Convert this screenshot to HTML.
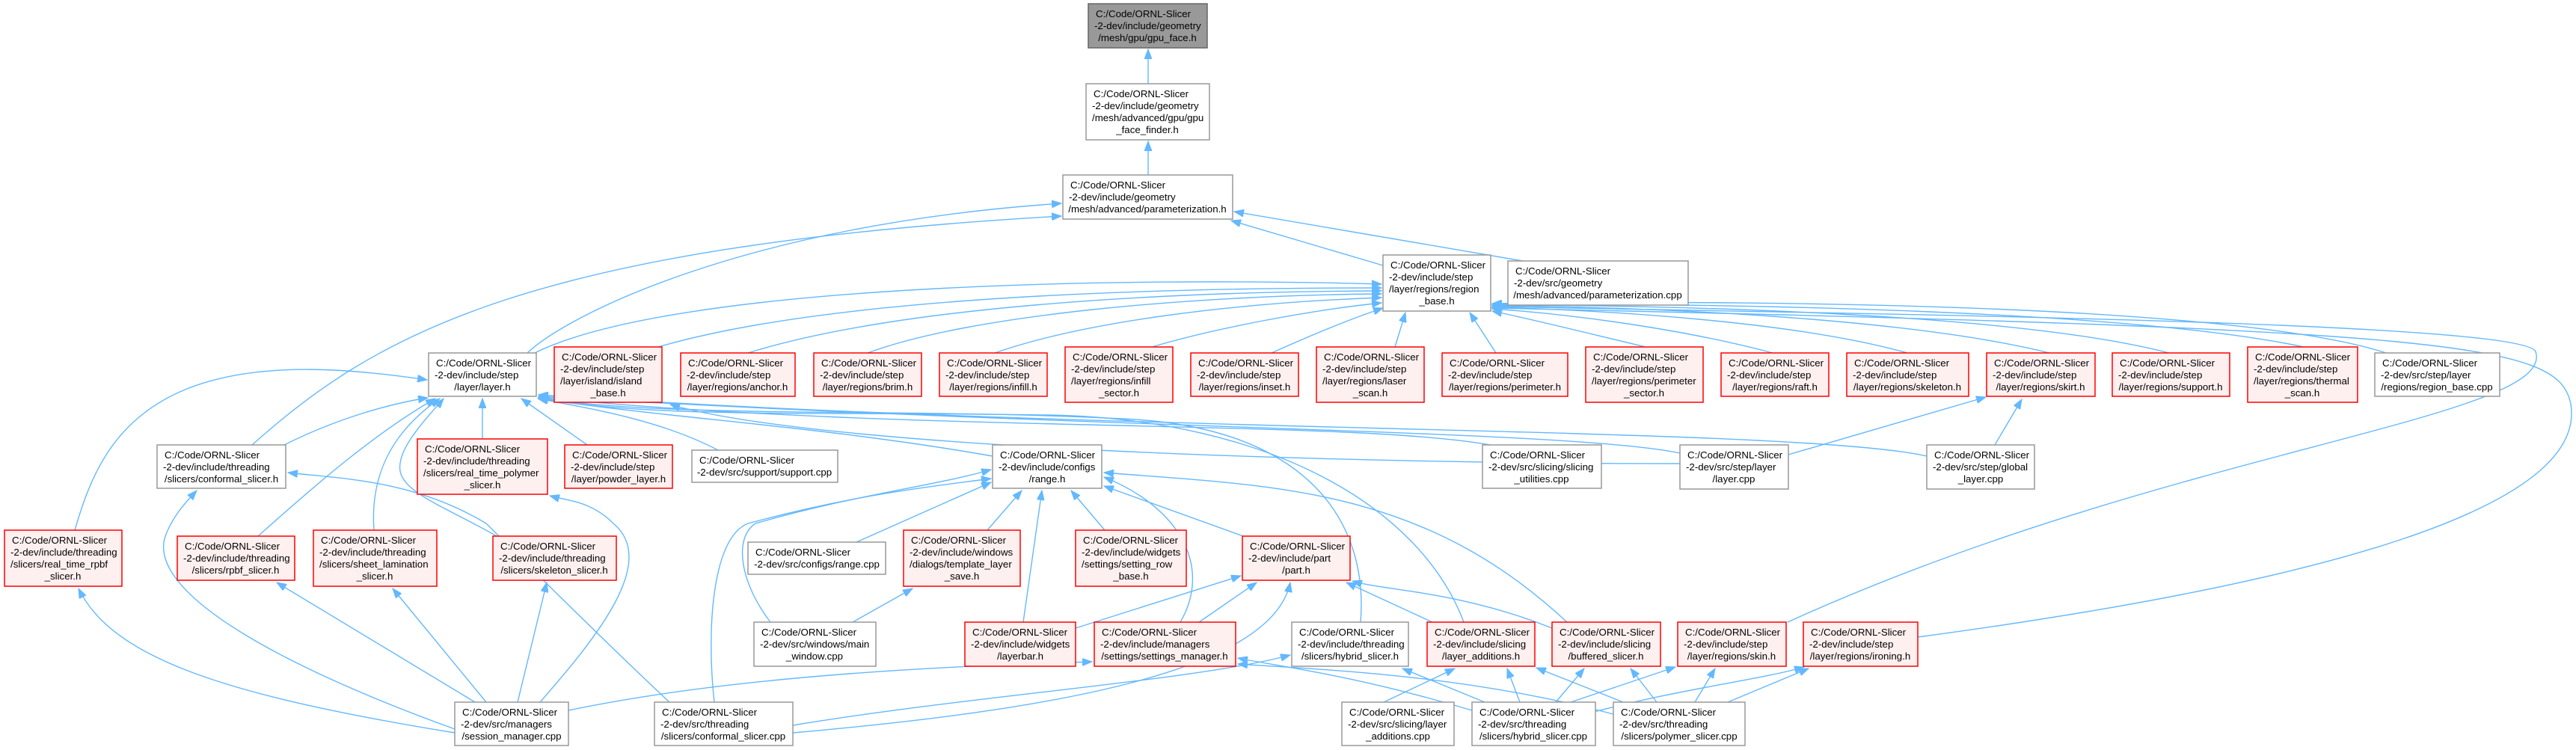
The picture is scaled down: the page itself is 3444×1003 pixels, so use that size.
<!DOCTYPE html>
<html><head><meta charset="utf-8"><style>
html,body{margin:0;padding:0;background:#fff;}
svg{display:block;}
text{font-family:"Liberation Sans",Arial,sans-serif;font-size:13.3px;fill:#000;}
.n{fill:#fff;stroke:#999;stroke-width:1.5}
.r{fill:#fff0f0;stroke:#ff0000;stroke-width:1.5}
.m{fill:#999;stroke:#666;stroke-width:1.5}
path.e{fill:none;stroke:#63b8ff;stroke-width:1.4;marker-end:url(#a)}
</style></head><body>
<svg width="3444" height="1003" viewBox="0 0 3444 1003" xmlns="http://www.w3.org/2000/svg">
<defs><marker id="a" markerUnits="userSpaceOnUse" markerWidth="14" markerHeight="10" refX="13" refY="5" orient="auto"><path d="M0,0 L13,5 L0,10 z" fill="#63b8ff" stroke="#63b8ff"/></marker></defs>
<g>
<path class="e" d="M1535,112 L1535,66"/>
<path class="e" d="M1535,234 L1535,189"/>
<path class="e" d="M1849,355 L1646,295"/>
<path class="e" d="M2036,349 L1650,283"/>
<path class="e" d="M705,472 C760,420 1000,300 1419,272"/>
<path class="e" d="M337,595 C500,450 700,330 1419,289"/>
<path class="e" d="M715,472 C900,380 1500,370 1847,380"/>
<path class="e" d="M880,464 C1100,400 1500,385 1847,385"/>
<path class="e" d="M1000,472 C1200,410 1550,390 1847,389"/>
<path class="e" d="M1160,472 C1300,420 1600,395 1847,393"/>
<path class="e" d="M1330,472 C1450,430 1650,405 1847,398"/>
<path class="e" d="M1540,464 C1620,440 1750,415 1847,405"/>
<path class="e" d="M1700,472 C1760,445 1810,425 1849,412"/>
<path class="e" d="M1865,464 L1879,418"/>
<path class="e" d="M2000,472 L1965,418"/>
<path class="e" d="M2200,464 C2100,440 2040,425 1995,416"/>
<path class="e" d="M2370,472 C2250,440 2100,420 1995,413"/>
<path class="e" d="M2550,472 C2400,430 2150,415 1995,411"/>
<path class="e" d="M2740,472 C2550,425 2200,410 1995,409"/>
<path class="e" d="M2900,472 C2700,420 2250,408 1995,408"/>
<path class="e" d="M3080,464 C2850,415 2300,405 1995,407"/>
<path class="e" d="M3190,472 C3000,410 2400,400 1995,406"/>
<path class="e" d="M2390,832 C2900,600 3420,560 3390,470 C3370,430 2500,420 1995,410"/>
<path class="e" d="M2564,852 C3100,780 3460,680 3437,540 C3420,460 3300,440 1995,412"/>
<path class="e" d="M380,595 C450,560 520,540 572,532"/>
<path class="e" d="M100,709 C120,640 150,560 250,520 C350,480 480,495 571,508"/>
<path class="e" d="M345,717 C420,650 500,580 582,533"/>
<path class="e" d="M500,709 C495,640 520,580 588,533"/>
<path class="e" d="M664,717 C600,680 540,660 535,630 C530,600 570,560 593,533"/>
<path class="e" d="M645,587 L645,533"/>
<path class="e" d="M785,595 L697,533"/>
<path class="e" d="M960,602 C880,560 780,545 719,533"/>
<path class="e" d="M1327,610 C1100,570 900,560 720,533"/>
<path class="e" d="M1992,595 C1800,560 1200,580 720,531"/>
<path class="e" d="M2246,606 C2100,575 1500,575 720,530"/>
<path class="e" d="M2576,610 C2400,570 1500,580 720,528"/>
<path class="e" d="M1819,832 C1830,700 1750,570 1500,560 C1200,545 900,560 720,532"/>
<path class="e" d="M1957,832 C1900,680 1700,560 1400,555 C1100,550 850,560 720,531"/>
<path class="e" d="M2246,620 C1800,620 1100,600 896,541"/>
<path class="e" d="M955,939 C945,850 950,720 1000,700 C1150,660 1250,650 1325,640"/>
<path class="e" d="M1030,832 C990,780 980,720 1010,700 C1150,660 1250,650 1325,628"/>
<path class="e" d="M1145,725 L1325,645"/>
<path class="e" d="M1320,709 L1366,656"/>
<path class="e" d="M1368,832 L1393,656"/>
<path class="e" d="M1477,709 L1432,656"/>
<path class="e" d="M1578,832 C1620,760 1580,680 1476,638"/>
<path class="e" d="M1662,717 L1476,650"/>
<path class="e" d="M2095,832 C1900,650 1700,650 1476,632"/>
<path class="e" d="M1140,832 L1220,787"/>
<path class="e" d="M1438,840 L1659,770"/>
<path class="e" d="M1603,832 L1680,779"/>
<path class="e" d="M1915,832 L1800,779"/>
<path class="e" d="M2075,840 C1950,790 1850,790 1808,777"/>
<path class="e" d="M1060,980 C1400,950 1700,900 1725,779"/>
<path class="e" d="M1060,970 C1300,930 1600,910 1725,876"/>
<path class="e" d="M760,950 C1000,900 1300,890 1460,885"/>
<path class="e" d="M608,980 C300,930 150,880 105,787"/>
<path class="e" d="M608,975 C400,900 200,800 220,720 C230,690 250,670 263,656"/>
<path class="e" d="M635,939 L370,779"/>
<path class="e" d="M650,939 L525,787"/>
<path class="e" d="M692,939 L731,779"/>
<path class="e" d="M722,939 C800,850 880,750 820,700 C790,670 760,670 735,663"/>
<path class="e" d="M895,939 C800,850 700,750 650,700 C550,640 450,640 385,632"/>
<path class="e" d="M1850,939 L1945,894"/>
<path class="e" d="M1985,939 L1875,894"/>
<path class="e" d="M2032,939 L2015,894"/>
<path class="e" d="M2080,939 L2118,894"/>
<path class="e" d="M2100,939 L2240,892"/>
<path class="e" d="M2120,955 C2250,920 2350,910 2412,892"/>
<path class="e" d="M1968,950 C1800,900 1700,890 1655,880"/>
<path class="e" d="M2215,939 L2180,894"/>
<path class="e" d="M2170,939 L2054,893"/>
<path class="e" d="M2266,939 L2293,894"/>
<path class="e" d="M2310,939 L2418,894"/>
<path class="e" d="M2157,955 C1950,900 1750,895 1655,888"/>
<path class="e" d="M2391,608 L2655,531"/>
<path class="e" d="M2667,595 L2703,534"/>
</g>
<g>
<rect class="m" x="1455" y="5" width="159" height="59"/>
<text x="1465" y="23">C:/Code/ORNL-Slicer</text><text x="1463" y="39">-2-dev/include/geometry</text><text x="1534" y="55" text-anchor="middle">/mesh/gpu/gpu_face.h</text>

<rect class="n" x="1452" y="112" width="165" height="75"/>
<text x="1462" y="130">C:/Code/ORNL-Slicer</text><text x="1460" y="146">-2-dev/include/geometry</text><text x="1460" y="162">/mesh/advanced/gpu/gpu</text><text x="1534" y="178" text-anchor="middle">_face_finder.h</text>

<rect class="n" x="1421" y="234" width="227" height="59"/>
<text x="1431" y="252">C:/Code/ORNL-Slicer</text><text x="1429" y="268">-2-dev/include/geometry</text><text x="1534" y="284" text-anchor="middle">/mesh/advanced/parameterization.h</text>

<rect class="n" x="1849" y="341" width="144" height="75"/>
<text x="1859" y="359">C:/Code/ORNL-Slicer</text><text x="1857" y="375">-2-dev/include/step</text><text x="1857" y="391">/layer/regions/region</text><text x="1921" y="407" text-anchor="middle">_base.h</text>

<rect class="n" x="2016" y="349" width="241" height="59"/>
<text x="2026" y="367">C:/Code/ORNL-Slicer</text><text x="2024" y="383">-2-dev/src/geometry</text><text x="2136" y="399" text-anchor="middle">/mesh/advanced/parameterization.cpp</text>

<rect class="n" x="573" y="472" width="144" height="58"/>
<text x="583" y="490">C:/Code/ORNL-Slicer</text><text x="581" y="506">-2-dev/include/step</text><text x="645" y="522" text-anchor="middle">/layer/layer.h</text>

<rect class="r" x="741" y="464" width="144" height="74"/>
<text x="751" y="482">C:/Code/ORNL-Slicer</text><text x="749" y="498">-2-dev/include/step</text><text x="749" y="514">/layer/island/island</text><text x="813" y="530" text-anchor="middle">_base.h</text>

<rect class="r" x="910" y="472" width="153" height="58"/>
<text x="920" y="490">C:/Code/ORNL-Slicer</text><text x="918" y="506">-2-dev/include/step</text><text x="986" y="522" text-anchor="middle">/layer/regions/anchor.h</text>

<rect class="r" x="1088" y="472" width="144" height="58"/>
<text x="1098" y="490">C:/Code/ORNL-Slicer</text><text x="1096" y="506">-2-dev/include/step</text><text x="1160" y="522" text-anchor="middle">/layer/regions/brim.h</text>

<rect class="r" x="1256" y="472" width="144" height="58"/>
<text x="1266" y="490">C:/Code/ORNL-Slicer</text><text x="1264" y="506">-2-dev/include/step</text><text x="1328" y="522" text-anchor="middle">/layer/regions/infill.h</text>

<rect class="r" x="1424" y="464" width="144" height="74"/>
<text x="1434" y="482">C:/Code/ORNL-Slicer</text><text x="1432" y="498">-2-dev/include/step</text><text x="1432" y="514">/layer/regions/infill</text><text x="1496" y="530" text-anchor="middle">_sector.h</text>

<rect class="r" x="1592" y="472" width="144" height="58"/>
<text x="1602" y="490">C:/Code/ORNL-Slicer</text><text x="1600" y="506">-2-dev/include/step</text><text x="1664" y="522" text-anchor="middle">/layer/regions/inset.h</text>

<rect class="r" x="1760" y="464" width="144" height="74"/>
<text x="1770" y="482">C:/Code/ORNL-Slicer</text><text x="1768" y="498">-2-dev/include/step</text><text x="1768" y="514">/layer/regions/laser</text><text x="1832" y="530" text-anchor="middle">_scan.h</text>

<rect class="r" x="1928" y="472" width="168" height="58"/>
<text x="1938" y="490">C:/Code/ORNL-Slicer</text><text x="1936" y="506">-2-dev/include/step</text><text x="2012" y="522" text-anchor="middle">/layer/regions/perimeter.h</text>

<rect class="r" x="2120" y="464" width="157" height="74"/>
<text x="2130" y="482">C:/Code/ORNL-Slicer</text><text x="2128" y="498">-2-dev/include/step</text><text x="2128" y="514">/layer/regions/perimeter</text><text x="2198" y="530" text-anchor="middle">_sector.h</text>

<rect class="r" x="2301" y="472" width="144" height="58"/>
<text x="2311" y="490">C:/Code/ORNL-Slicer</text><text x="2309" y="506">-2-dev/include/step</text><text x="2373" y="522" text-anchor="middle">/layer/regions/raft.h</text>

<rect class="r" x="2469" y="472" width="163" height="58"/>
<text x="2479" y="490">C:/Code/ORNL-Slicer</text><text x="2477" y="506">-2-dev/include/step</text><text x="2550" y="522" text-anchor="middle">/layer/regions/skeleton.h</text>

<rect class="r" x="2656" y="472" width="145" height="58"/>
<text x="2666" y="490">C:/Code/ORNL-Slicer</text><text x="2664" y="506">-2-dev/include/step</text><text x="2728" y="522" text-anchor="middle">/layer/regions/skirt.h</text>

<rect class="r" x="2824" y="472" width="157" height="58"/>
<text x="2834" y="490">C:/Code/ORNL-Slicer</text><text x="2832" y="506">-2-dev/include/step</text><text x="2902" y="522" text-anchor="middle">/layer/regions/support.h</text>

<rect class="r" x="3005" y="464" width="147" height="74"/>
<text x="3015" y="482">C:/Code/ORNL-Slicer</text><text x="3013" y="498">-2-dev/include/step</text><text x="3013" y="514">/layer/regions/thermal</text><text x="3078" y="530" text-anchor="middle">_scan.h</text>

<rect class="n" x="3175" y="472" width="167" height="58"/>
<text x="3185" y="490">C:/Code/ORNL-Slicer</text><text x="3183" y="506">-2-dev/src/step/layer</text><text x="3258" y="522" text-anchor="middle">/regions/region_base.cpp</text>

<rect class="n" x="210" y="595" width="172" height="58"/>
<text x="220" y="613">C:/Code/ORNL-Slicer</text><text x="218" y="629">-2-dev/include/threading</text><text x="296" y="645" text-anchor="middle">/slicers/conformal_slicer.h</text>

<rect class="r" x="558" y="587" width="174" height="74"/>
<text x="568" y="605">C:/Code/ORNL-Slicer</text><text x="566" y="621">-2-dev/include/threading</text><text x="566" y="637">/slicers/real_time_polymer</text><text x="645" y="653" text-anchor="middle">_slicer.h</text>

<rect class="r" x="755" y="595" width="144" height="58"/>
<text x="765" y="613">C:/Code/ORNL-Slicer</text><text x="763" y="629">-2-dev/include/step</text><text x="827" y="645" text-anchor="middle">/layer/powder_layer.h</text>

<rect class="n" x="925" y="602" width="195" height="43"/>
<text x="935" y="620">C:/Code/ORNL-Slicer</text><text x="1022" y="636" text-anchor="middle">-2-dev/src/support/support.cpp</text>

<rect class="n" x="1327" y="595" width="146" height="58"/>
<text x="1337" y="613">C:/Code/ORNL-Slicer</text><text x="1335" y="629">-2-dev/include/configs</text><text x="1400" y="645" text-anchor="middle">/range.h</text>

<rect class="n" x="1982" y="595" width="159" height="58"/>
<text x="1992" y="613">C:/Code/ORNL-Slicer</text><text x="1990" y="629">-2-dev/src/slicing/slicing</text><text x="2061" y="645" text-anchor="middle">_utilities.cpp</text>

<rect class="n" x="2246" y="595" width="145" height="59"/>
<text x="2256" y="613">C:/Code/ORNL-Slicer</text><text x="2254" y="629">-2-dev/src/step/layer</text><text x="2318" y="645" text-anchor="middle">/layer.cpp</text>

<rect class="n" x="2576" y="595" width="144" height="59"/>
<text x="2586" y="613">C:/Code/ORNL-Slicer</text><text x="2584" y="629">-2-dev/src/step/global</text><text x="2648" y="645" text-anchor="middle">_layer.cpp</text>

<rect class="r" x="6" y="709" width="157" height="75"/>
<text x="16" y="727">C:/Code/ORNL-Slicer</text><text x="14" y="743">-2-dev/include/threading</text><text x="14" y="759">/slicers/real_time_rpbf</text><text x="84" y="775" text-anchor="middle">_slicer.h</text>

<rect class="r" x="237" y="717" width="157" height="59"/>
<text x="247" y="735">C:/Code/ORNL-Slicer</text><text x="245" y="751">-2-dev/include/threading</text><text x="315" y="767" text-anchor="middle">/slicers/rpbf_slicer.h</text>

<rect class="r" x="419" y="709" width="165" height="75"/>
<text x="429" y="727">C:/Code/ORNL-Slicer</text><text x="427" y="743">-2-dev/include/threading</text><text x="427" y="759">/slicers/sheet_lamination</text><text x="501" y="775" text-anchor="middle">_slicer.h</text>

<rect class="r" x="659" y="717" width="165" height="59"/>
<text x="669" y="735">C:/Code/ORNL-Slicer</text><text x="667" y="751">-2-dev/include/threading</text><text x="741" y="767" text-anchor="middle">/slicers/skeleton_slicer.h</text>

<rect class="n" x="1000" y="725" width="184" height="43"/>
<text x="1010" y="743">C:/Code/ORNL-Slicer</text><text x="1092" y="759" text-anchor="middle">-2-dev/src/configs/range.cpp</text>

<rect class="r" x="1208" y="709" width="156" height="75"/>
<text x="1218" y="727">C:/Code/ORNL-Slicer</text><text x="1216" y="743">-2-dev/include/windows</text><text x="1216" y="759">/dialogs/template_layer</text><text x="1286" y="775" text-anchor="middle">_save.h</text>

<rect class="r" x="1438" y="709" width="148" height="75"/>
<text x="1448" y="727">C:/Code/ORNL-Slicer</text><text x="1446" y="743">-2-dev/include/widgets</text><text x="1446" y="759">/settings/setting_row</text><text x="1512" y="775" text-anchor="middle">_base.h</text>

<rect class="r" x="1661" y="717" width="144" height="59"/>
<text x="1671" y="735">C:/Code/ORNL-Slicer</text><text x="1669" y="751">-2-dev/include/part</text><text x="1733" y="767" text-anchor="middle">/part.h</text>

<rect class="n" x="1008" y="832" width="163" height="59"/>
<text x="1018" y="850">C:/Code/ORNL-Slicer</text><text x="1016" y="866">-2-dev/src/windows/main</text><text x="1089" y="882" text-anchor="middle">_window.cpp</text>

<rect class="r" x="1290" y="832" width="148" height="59"/>
<text x="1300" y="850">C:/Code/ORNL-Slicer</text><text x="1298" y="866">-2-dev/include/widgets</text><text x="1364" y="882" text-anchor="middle">/layerbar.h</text>

<rect class="r" x="1463" y="832" width="189" height="59"/>
<text x="1473" y="850">C:/Code/ORNL-Slicer</text><text x="1471" y="866">-2-dev/include/managers</text><text x="1557" y="882" text-anchor="middle">/settings/settings_manager.h</text>

<rect class="n" x="1727" y="832" width="156" height="59"/>
<text x="1737" y="850">C:/Code/ORNL-Slicer</text><text x="1735" y="866">-2-dev/include/threading</text><text x="1805" y="882" text-anchor="middle">/slicers/hybrid_slicer.h</text>

<rect class="r" x="1908" y="832" width="144" height="59"/>
<text x="1918" y="850">C:/Code/ORNL-Slicer</text><text x="1916" y="866">-2-dev/include/slicing</text><text x="1980" y="882" text-anchor="middle">/layer_additions.h</text>

<rect class="r" x="2075" y="832" width="145" height="59"/>
<text x="2085" y="850">C:/Code/ORNL-Slicer</text><text x="2083" y="866">-2-dev/include/slicing</text><text x="2147" y="882" text-anchor="middle">/buffered_slicer.h</text>

<rect class="r" x="2243" y="832" width="145" height="59"/>
<text x="2253" y="850">C:/Code/ORNL-Slicer</text><text x="2251" y="866">-2-dev/include/step</text><text x="2315" y="882" text-anchor="middle">/layer/regions/skin.h</text>

<rect class="r" x="2411" y="832" width="153" height="59"/>
<text x="2421" y="850">C:/Code/ORNL-Slicer</text><text x="2419" y="866">-2-dev/include/step</text><text x="2487" y="882" text-anchor="middle">/layer/regions/ironing.h</text>

<rect class="n" x="608" y="939" width="152" height="58"/>
<text x="618" y="957">C:/Code/ORNL-Slicer</text><text x="616" y="973">-2-dev/src/managers</text><text x="684" y="989" text-anchor="middle">/session_manager.cpp</text>

<rect class="n" x="875" y="939" width="185" height="58"/>
<text x="885" y="957">C:/Code/ORNL-Slicer</text><text x="883" y="973">-2-dev/src/threading</text><text x="967" y="989" text-anchor="middle">/slicers/conformal_slicer.cpp</text>

<rect class="n" x="1794" y="939" width="150" height="58"/>
<text x="1804" y="957">C:/Code/ORNL-Slicer</text><text x="1802" y="973">-2-dev/src/slicing/layer</text><text x="1869" y="989" text-anchor="middle">_additions.cpp</text>

<rect class="n" x="1968" y="939" width="165" height="58"/>
<text x="1978" y="957">C:/Code/ORNL-Slicer</text><text x="1976" y="973">-2-dev/src/threading</text><text x="2050" y="989" text-anchor="middle">/slicers/hybrid_slicer.cpp</text>

<rect class="n" x="2157" y="939" width="176" height="58"/>
<text x="2167" y="957">C:/Code/ORNL-Slicer</text><text x="2165" y="973">-2-dev/src/threading</text><text x="2245" y="989" text-anchor="middle">/slicers/polymer_slicer.cpp</text>
</g>
</svg>
</body></html>
